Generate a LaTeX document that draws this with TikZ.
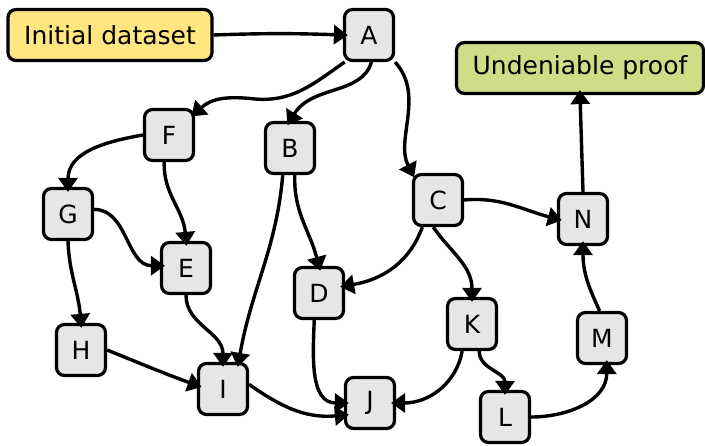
\documentclass[tikz,border=0pt]{standalone}
\usepackage{fontspec}
\setmainfont{DejaVu Sans}
\usetikzlibrary{arrows.meta}
\definecolor{boxgray}{HTML}{E6E6E6}
\definecolor{startyellow}{HTML}{FFE680}
\definecolor{endgreen}{HTML}{CDDE87}
\begin{document}
\begin{tikzpicture}[x=1pt,y=-1pt,
  every node/.style={font=\fontsize{25}{30}\selectfont},
  nbox/.style={draw, line width=3.2pt, rounded corners=8pt, fill=boxgray,
    minimum width=49pt, minimum height=51pt, inner sep=0pt},
  widebox/.style={nbox, minimum height=51pt},
  arr/.style={-{Triangle[length=14pt,width=19pt]}, line width=3.4pt, line join=round, shorten >=-5pt}]
\useasboundingbox (0,0) rectangle (705,446);
\node[widebox, fill=startyellow, minimum width=204pt] (init) at (110,35) {Initial dataset};
\node[widebox, fill=endgreen, minimum width=247pt] (U) at (580,68) {Undeniable proof};
\node[nbox] (A) at (369,35) {A};
\node[nbox] (F) at (169,135) {F};
\node[nbox] (B) at (290,148) {B};
\node[nbox] (C) at (438,200) {C};
\node[nbox] (G) at (68,214) {G};
\node[nbox] (N) at (583,219) {N};
\node[nbox] (E) at (186,268) {E};
\node[nbox] (D) at (319,293) {D};
\node[nbox] (K) at (472,324) {K};
\node[nbox] (H) at (81,350) {H};
\node[nbox] (M) at (602,338) {M};
\node[nbox] (I) at (223,389) {I};
\node[nbox] (J) at (370,403) {J};
\node[nbox] (L) at (505,417) {L};

\draw[arr] (init.east) to[out=2,in=178] (A.west);
\draw[arr] (A.-132) .. controls (312,85) and (292,102) .. (255,99) .. controls (228,96) and (212,98) .. (F.40);
\draw[arr] (A.-85) .. controls (362,95) and (312,85) .. (B.north);
\draw[arr] (A.south east) .. controls (425,95) and (395,140) .. (C.north west);
\draw[arr] (F.west) to[out=190,in=90] (G.north);
\draw[arr] (F.-100) to[out=-92,in=95] (E.north);
\draw[arr] (G.10) to[out=0,in=180] (E.175);
\draw[arr] (G.south) to[out=-88,in=95] (H.north);
\draw[arr] (B.-105) to[out=-95,in=80] (I.60);
\draw[arr] (B.-80) to[out=-92,in=105] (D.north);
\draw[arr] (C.-120) to[out=-110,in=10] (D.15);
\draw[arr] (C.east) to[out=5,in=165] (N.west);
\draw[arr] (C.-100) to[out=-55,in=90] (K.north);
\draw[arr] (E.south) to[out=-90,in=90] (I.north);
\draw[arr] (H.east) to[out=-22,in=160] (I.172);
\draw[arr] (D.-100) to[out=-92,in=180] (J.west);
\draw[arr] (I.10) to[out=-35,in=185] (J.205);
\draw[arr] (K.-110) to[out=-100,in=0] (J.east);
\draw[arr] (K.-75) to[out=-90,in=90] (L.north);
\draw[arr] (L.east) to[out=0,in=-90] (M.-80);
\draw[arr] (M.95) to[out=115,in=-90] (N.south);
\draw[arr] (N.north) -- (U.south);
\end{tikzpicture}
\end{document}
